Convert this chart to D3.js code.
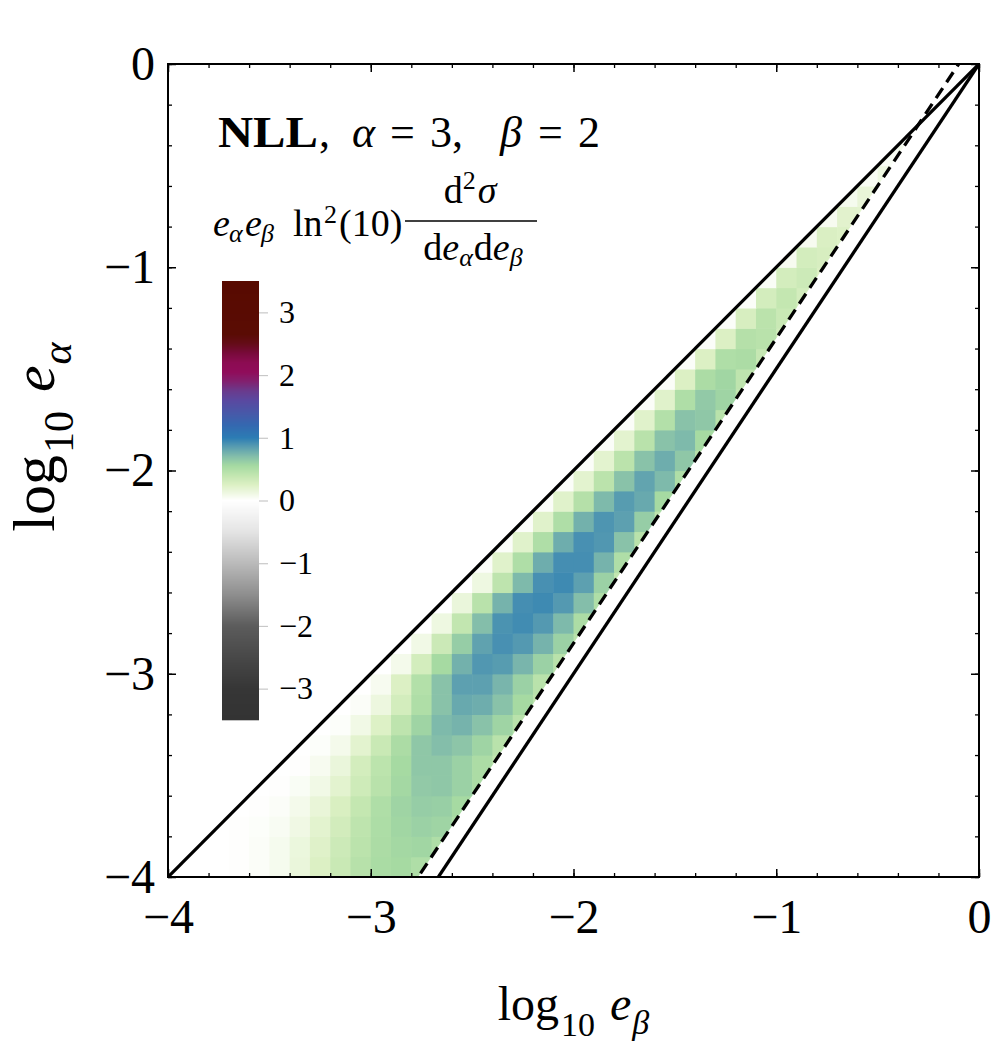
<!DOCTYPE html>
<html>
<head>
<meta charset="utf-8">
<script src="https://cdn.jsdelivr.net/npm/d3@7"></script>
<style>
  body { margin: 0; background: #fff; }
  text { font-family: "Liberation Serif", "DejaVu Serif", serif; fill: #000; }
</style>
</head>
<body>
<svg id="main-chart"></svg>
<script>
// axis ticks (log10 e_beta horizontally, log10 e_alpha vertically)
const majorTicks = [-4, -3, -2, -1, 0];
const colorbarTicks = [-3, -2, -1, 0, 1, 2, 3];

// reference lines  log e_alpha = slope * log e_beta + intercept
const lineNames = ["upper", "lower", "lowerShifted"];
const lineSlope = [1, 1.5, 1.5];
const lineIntercept = [0, 0, 0.15];

// colour legend: value -> colour
const colorDomain = [-3.5, -3, -2.5, -2, -1.5, -1, -0.5, 0, 0.1, 0.25, 0.4, 0.55, 0.7, 0.85, 1.0, 1.2, 1.4, 1.6, 1.75, 1.9, 2.05, 2.2, 2.35, 2.5, 2.65, 3.5];
const colorRange = ["#333333", "#363636", "#484848", "#5c5c5c", "#8e8e8e", "#bababa", "#e4e4e4", "#ffffff",
  "#f1f9e6", "#dcf0c4", "#c2e6b0", "#a6daa2", "#84beaa", "#5a9eb0", "#2c7cb4", "#3468b0", "#4858a8",
  "#5a48a0", "#6a3a8c", "#82206e", "#900c5a", "#8c0c52", "#780a3a", "#640c18", "#5a0c04", "#580a00"];

// heat map, grid step 0.1: each row starts at log e_alpha = rowY, first cell at rowStartX
const gridStep = 0.1;
const rowY = [-4.0, -3.9, -3.8, -3.7, -3.6, -3.5, -3.4, -3.3, -3.2, -3.1, -3.0, -2.9, -2.8, -2.7, -2.6, -2.5, -2.4, -2.3, -2.2,
  -2.1, -2.0, -1.9, -1.8, -1.7, -1.6, -1.5, -1.4, -1.3, -1.2, -1.1, -1.0, -0.9, -0.8, -0.7, -0.6, -0.5, -0.4];
const rowStartX = [-4.0, -3.9, -3.8, -3.7, -3.6, -3.5, -3.4, -3.3, -3.2, -3.1, -3.0, -2.9, -2.8, -2.7, -2.6, -2.5, -2.4, -2.3, -2.2,
  -2.1, -2.0, -1.9, -1.8, -1.7, -1.6, -1.5, -1.4, -1.3, -1.2, -1.1, -1.0, -0.9, -0.8, -0.7, -0.6, -0.5, -0.4];
const rowValues = [
  [0, 0, 0, 0.01, 0.03, 0.07, 0.15, 0.25, 0.36, 0.46, 0.53, 0.55, 0.5],
  [0, 0, 0.01, 0.03, 0.07, 0.14, 0.23, 0.34, 0.44, 0.52, 0.56, 0.57, 0.5],
  [0, 0.01, 0.02, 0.05, 0.11, 0.2, 0.31, 0.42, 0.51, 0.57, 0.6, 0.58, 0.5],
  [0, 0.01, 0.03, 0.08, 0.16, 0.27, 0.39, 0.5, 0.58, 0.62, 0.61, 0.55],
  [0, 0.01, 0.04, 0.1, 0.2, 0.33, 0.45, 0.56, 0.64, 0.65, 0.6, 0.52],
  [0, 0.01, 0.06, 0.15, 0.3, 0.43, 0.55, 0.65, 0.65, 0.6, 0.52, 0.4],
  [0, 0.02, 0.08, 0.2, 0.36, 0.52, 0.65, 0.7, 0.66, 0.58, 0.45],
  [0, 0.02, 0.1, 0.24, 0.42, 0.58, 0.72, 0.75, 0.68, 0.58, 0.45],
  [0, 0.03, 0.13, 0.3, 0.5, 0.68, 0.8, 0.78, 0.68, 0.55, 0.42],
  [0, 0.06, 0.25, 0.48, 0.68, 0.84, 0.84, 0.74, 0.6, 0.45],
  [0, 0.08, 0.3, 0.55, 0.76, 0.88, 0.86, 0.74, 0.6, 0.45],
  [0, 0.1, 0.35, 0.62, 0.83, 0.91, 0.87, 0.75, 0.6, 0.45],
  [0, 0.12, 0.4, 0.7, 0.9, 0.93, 0.87, 0.72, 0.52],
  [0, 0.15, 0.45, 0.75, 0.92, 0.94, 0.87, 0.7, 0.5],
  [0, 0.12, 0.42, 0.72, 0.91, 0.94, 0.84, 0.6, 0.4],
  [0.03, 0.22, 0.5, 0.78, 0.92, 0.92, 0.75, 0.5],
  [0.03, 0.22, 0.5, 0.78, 0.91, 0.88, 0.68, 0.45],
  [0.03, 0.22, 0.5, 0.76, 0.89, 0.84, 0.62, 0.42],
  [0.03, 0.22, 0.47, 0.72, 0.86, 0.8, 0.55],
  [0.03, 0.2, 0.44, 0.68, 0.82, 0.72, 0.5],
  [0.03, 0.2, 0.44, 0.68, 0.78, 0.65, 0.45],
  [0.03, 0.2, 0.45, 0.68, 0.72, 0.55],
  [0.03, 0.22, 0.48, 0.68, 0.65, 0.45],
  [0.03, 0.22, 0.5, 0.64, 0.58, 0.4],
  [0.03, 0.25, 0.52, 0.57, 0.42],
  [0.03, 0.25, 0.5, 0.52, 0.38],
  [0.03, 0.25, 0.47, 0.45, 0.32],
  [0.03, 0.28, 0.44, 0.36],
  [0.03, 0.3, 0.39, 0.3],
  [0.04, 0.3, 0.34, 0.25],
  [0.06, 0.3, 0.28],
  [0.06, 0.26, 0.24],
  [0.06, 0.21, 0.2],
  [0.07, 0.16],
  [0.05, 0.12],
  [0.04, 0.08],
  [0.04]
];

function plotchart() {
  const width = 1000;
  const height = 1045;
  const plot = {left: 168, right: 979, top: 64, bottom: 877};

  const svg = d3.select("#main-chart")
    .attr("width", width)
    .attr("height", height);

  const x = d3.scaleLinear().domain([-4, 0]).range([plot.left, plot.right]);
  const y = d3.scaleLinear().domain([-4, 0]).range([plot.bottom, plot.top]);
  const color = d3.scaleLinear().domain(colorDomain).range(colorRange).clamp(true);

  const defs = svg.append("defs");
  defs.append("clipPath").attr("id", "plot-clip")
    .append("rect")
    .attr("x", plot.left).attr("y", plot.top)
    .attr("width", plot.right - plot.left).attr("height", plot.bottom - plot.top);

  // wedge between the upper line and the shifted line
  const a1 = lineSlope[0], b1 = lineIntercept[0];
  const a2 = lineSlope[2], b2 = lineIntercept[2];
  const crossX = (b2 - b1) / (a1 - a2);
  const wedge = [[-4, a1 * -4 + b1], [crossX, a1 * crossX + b1], [(-4 - b2) / a2, -4]];
  defs.append("clipPath").attr("id", "wedge-clip")
    .append("polygon")
    .attr("points", wedge.map(p => [x(p[0]), y(p[1])].join(",")).join(" "));

  // heat map cells
  const cells = [];
  rowValues.forEach((vals, i) => {
    vals.forEach((v, j) => {
      cells.push({x0: Math.round((rowStartX[i] + j * gridStep) * 100) / 100, y0: rowY[i], v: v});
    });
  });

  svg.append("g")
    .attr("clip-path", "url(#wedge-clip)")
    .selectAll("rect")
    .data(cells)
    .join("rect")
    .attr("x", d => x(d.x0))
    .attr("y", d => y(d.y0 + gridStep))
    .attr("width", d => x(d.x0 + gridStep) - x(d.x0) + 0.6)
    .attr("height", d => y(d.y0) - y(d.y0 + gridStep) + 0.6)
    .attr("fill", d => color(d.v));

  // colour bar
  const cb = d3.scaleLinear().domain([-3.5, 3.5]).range([720, 281]);
  const cbRows = d3.range(281, 720, 1);
  svg.append("g")
    .selectAll("rect")
    .data(cbRows)
    .join("rect")
    .attr("x", 222)
    .attr("y", d => d)
    .attr("width", 37)
    .attr("height", 1.3)
    .attr("fill", d => color(cb.invert(d + 0.5)));

  svg.append("g")
    .attr("transform", "translate(259,0)")
    .call(d3.axisRight(cb).tickValues(colorbarTicks).tickSize(9).tickPadding(11).tickFormat(d3.format("d")))
    .call(g => g.select(".domain").remove())
    .call(g => g.selectAll(".tick line").attr("stroke", "#c8c8c8").attr("stroke-width", 1.2))
    .call(g => g.selectAll(".tick text").attr("font-size", 32).attr("font-family", "Liberation Serif").attr("fill", "#000"));

  // reference lines
  const line = d3.line().x(d => x(d[0])).y(d => y(d[1]));
  const lines = svg.append("g").attr("clip-path", "url(#plot-clip)");
  lineNames.forEach((name, i) => {
    const pts = [[-4, lineSlope[i] * -4 + lineIntercept[i]], [0.2, lineSlope[i] * 0.2 + lineIntercept[i]]];
    lines.append("path")
      .attr("d", line(pts))
      .attr("fill", "none")
      .attr("stroke", "#000")
      .attr("stroke-width", 3.3)
      .attr("stroke-dasharray", name === "lowerShifted" ? "12,7" : null);
  });

  // frame, ticks on all sides
  const minor = x.ticks(20);
  const fmt = d3.format("d");
  const axes = [
    {axis: d3.axisBottom(x), t: `translate(0,${plot.bottom})`, labels: true, pad: 22},
    {axis: d3.axisTop(x), t: `translate(0,${plot.top})`, labels: false, pad: 4},
    {axis: d3.axisLeft(y), t: `translate(${plot.left},0)`, labels: true, pad: 13},
    {axis: d3.axisRight(y), t: `translate(${plot.right},0)`, labels: false, pad: 4}
  ];
  axes.forEach(a => {
    svg.append("g")
      .attr("transform", a.t)
      .call(a.axis.tickValues(minor).tickSize(-4).tickFormat(""))
      .call(g => g.select(".domain").remove())
      .call(g => g.selectAll(".tick line").attr("stroke-width", 1.3));
    svg.append("g")
      .attr("transform", a.t)
      .call(a.axis.tickValues(majorTicks).tickSize(-8).tickPadding(a.pad).tickFormat(a.labels ? fmt : ""))
      .call(g => g.select(".domain").remove())
      .call(g => g.selectAll(".tick line").attr("stroke-width", 1.5))
      .call(g => g.selectAll(".tick text").attr("font-size", 48).attr("font-family", "Liberation Serif").attr("fill", "#000"));
  });

  svg.append("rect")
    .attr("x", plot.left).attr("y", plot.top)
    .attr("width", plot.right - plot.left).attr("height", plot.bottom - plot.top)
    .attr("fill", "none").attr("stroke", "#000").attr("stroke-width", 2);

  // axis titles
  const xt = svg.append("text")
    .attr("x", (plot.left + plot.right) / 2).attr("y", 1020)
    .attr("text-anchor", "middle").attr("font-size", 48);
  xt.append("tspan").text("log");
  xt.append("tspan").attr("font-size", 34).attr("dy", 16).attr("dx", 2).text("10");
  xt.append("tspan").attr("dy", -16).attr("dx", 15).attr("font-style", "italic").text("e");
  xt.append("tspan").attr("font-size", 34).attr("dy", 14).attr("dx", 1).attr("font-style", "italic").text("β");

  const yt = svg.append("text")
    .attr("transform", "translate(54,437) rotate(-90)")
    .attr("text-anchor", "middle").attr("font-size", 60);
  yt.append("tspan").text("log");
  yt.append("tspan").attr("font-size", 42).attr("dy", 19).attr("dx", 2).text("10");
  yt.append("tspan").attr("dy", -19).attr("dx", 19).attr("font-style", "italic").text("e");
  yt.append("tspan").attr("font-size", 42).attr("dy", 17).attr("dx", 1).attr("font-style", "italic").text("α");

  // title
  svg.append("text")
    .attr("x", 218).attr("y", 147).attr("font-size", 44).attr("font-weight", "bold")
    .attr("textLength", 100).attr("lengthAdjust", "spacingAndGlyphs")
    .text("NLL");
  const title = svg.append("text").attr("y", 147).attr("font-size", 44);
  title.append("tspan").attr("x", 319).text(",");
  title.append("tspan").attr("x", 352).attr("font-style", "italic").text("α");
  title.append("tspan").attr("x", 390).text("=");
  title.append("tspan").attr("x", 430).text("3,");
  title.append("tspan").attr("x", 500).attr("font-style", "italic").text("β");
  title.append("tspan").attr("x", 538).text("=");
  title.append("tspan").attr("x", 578).text("2");

  // colour bar caption
  const f1 = svg.append("text").attr("y", 236).attr("font-size", 38);
  f1.append("tspan").attr("x", 213).attr("font-style", "italic").text("e");
  f1.append("tspan").attr("x", 229).attr("dy", 6).attr("font-size", 26).attr("font-style", "italic").text("α");
  f1.append("tspan").attr("x", 245).attr("dy", -6).attr("font-style", "italic").text("e");
  f1.append("tspan").attr("x", 261).attr("dy", 6).attr("font-size", 26).attr("font-style", "italic").text("β");
  f1.append("tspan").attr("x", 293).attr("dy", -6).text("ln");
  f1.append("tspan").attr("x", 324).attr("dy", -13).attr("font-size", 26).text("2");
  f1.append("tspan").attr("x", 339).attr("dy", 13).text("(10)");

  const num = svg.append("text").attr("x", 470).attr("y", 203).attr("font-size", 38).attr("text-anchor", "middle");
  num.append("tspan").text("d");
  num.append("tspan").attr("dy", -14).attr("font-size", 26).text("2");
  num.append("tspan").attr("dy", 14).attr("dx", 2).attr("font-style", "italic").text("σ");

  svg.append("line")
    .attr("x1", 405).attr("x2", 537).attr("y1", 221).attr("y2", 221)
    .attr("stroke", "#000").attr("stroke-width", 1.5);

  const den = svg.append("text").attr("x", 473).attr("y", 260).attr("font-size", 38).attr("text-anchor", "middle");
  den.append("tspan").text("d");
  den.append("tspan").attr("font-style", "italic").text("e");
  den.append("tspan").attr("dy", 6).attr("font-size", 26).attr("font-style", "italic").text("α");
  den.append("tspan").attr("dy", -6).attr("dx", 1).text("d");
  den.append("tspan").attr("font-style", "italic").text("e");
  den.append("tspan").attr("dy", 6).attr("font-size", 26).attr("font-style", "italic").text("β");
}

plotchart();
</script>
</body>
</html>
